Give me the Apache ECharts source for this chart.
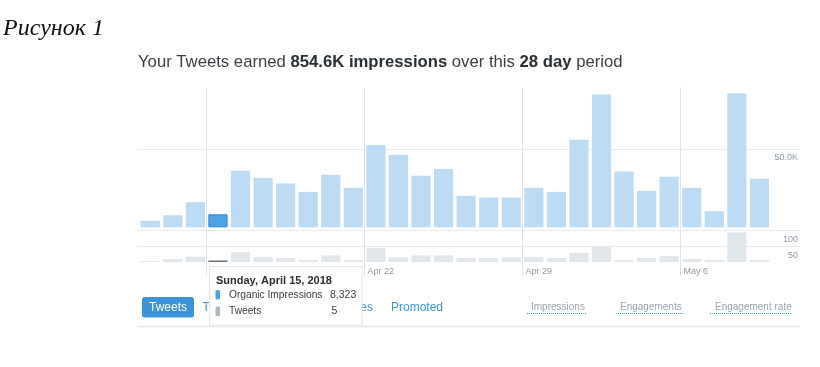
<!DOCTYPE html>
<html><head><meta charset="utf-8">
<script src="https://cdn.jsdelivr.net/npm/echarts@6/dist/echarts.min.js"></script>
<style>html,body{margin:0;padding:0;background:#fff}#c{width:820px;height:367px}</style>
</head><body><div id="c"></div>
<script>
// ---- data ----
const dates = ['Apr 12','Apr 13','Apr 14','Apr 15','Apr 16','Apr 17','Apr 18','Apr 19','Apr 20','Apr 21',
  'Apr 22','Apr 23','Apr 24','Apr 25','Apr 26','Apr 27','Apr 28','Apr 29','Apr 30','May 1',
  'May 2','May 3','May 4','May 5','May 6','May 7','May 8','May 9'];
const boundaryDates = dates.concat(['May 10']);
const impressions = [4100, 7700, 16100, 8323, 36200, 31700, 28100, 22700, 33700, 25300,
  52800, 46300, 33000, 37300, 20200, 19100, 19100, 25300, 22700, 56200,
  85100, 35800, 23400, 32400, 25300, 10300, 86000, 31100];
const tweets = [3, 9, 17, 5, 31, 16, 12, 6, 21, 6,
  44, 15, 21, 21, 12, 12, 15, 16, 13, 29,
  48, 6, 13, 19, 10, 6, 94, 6];
const weekStarts = [3, 10, 17, 24];
const highlightIdx = 3;
const highlightTitle = 'Sunday, April 15, 2018';
const totalImpressions = '854.6K';
const periodDays = 28;
const tabs = ['Tweets', 'Top Tweets', 'Tweets and replies', 'Promoted'];
const metrics = ['Impressions', 'Engagements', 'Engagement rate'];

// ---- chart ----
const FONT = 'Liberation Sans, Arial, sans-serif';
const GRIDLINE = '#e6ebef';
const LABEL = '#8f9ba5';
const BLUE = '#3b94d9';

const chart = echarts.init(document.getElementById('c'), null, {renderer: 'canvas'});

const impData = impressions.map((v, i) => i === highlightIdx
  ? {value: v, itemStyle: {color: '#4ba2e6', borderColor: '#2f86cc', borderWidth: 1}}
  : v);
const twData = tweets.map((v, i) => i === highlightIdx
  ? {value: v, itemStyle: {color: '#6e7880'}}
  : v);

const isWeek = (idx) => weekStarts.indexOf(idx) >= 0;

const option = {
  animation: false,
  backgroundColor: '#fff',
  textStyle: {fontFamily: FONT},
  title: [
    {text: 'Рисунок 1', left: 3, top: 17, padding: 0,
     textStyle: {fontFamily: 'Liberation Serif, Times New Roman, serif', fontStyle: 'italic', fontWeight: 'normal', fontSize: 24, color: '#111'}},
    {text: '{n|Your Tweets earned }{b|' + totalImpressions + ' impressions}{n| over this }{b|' + periodDays + ' day}{n| period}',
     left: 138, top: 54, padding: 0,
     textStyle: {fontWeight: 'normal', rich: {
       n: {fontFamily: FONT, fontSize: 16.7, fontWeight: 'normal', color: '#3a3f44'},
       b: {fontFamily: FONT, fontSize: 16.7, fontWeight: 'bold', color: '#292f33'}
     }}}
  ],
  grid: [
    {left: 139, width: 631.7, top: 71.3, height: 156},   // impressions bars
    {left: 139, width: 631.7, top: 230.5, height: 31.5}, // tweets bars
    {left: 137, width: 663, top: 71.3, height: 156},     // impressions gridlines
    {left: 137, width: 663, top: 230.5, height: 31.5},   // tweets gridlines
    {left: 139, width: 631.7, top: 87, height: 175}      // week lines + date labels
  ],
  xAxis: [
    {gridIndex: 0, type: 'category', data: dates, show: false},
    {gridIndex: 1, type: 'category', data: dates, show: false},
    {gridIndex: 2, type: 'value', show: false, min: 0, max: 1},
    {gridIndex: 3, type: 'value', show: false, min: 0, max: 1},
    {gridIndex: 4, type: 'category', data: boundaryDates, boundaryGap: false,
     axisLine: {show: false},
     axisTick: {show: true, length: 14, interval: (i) => isWeek(i), lineStyle: {color: '#dfe4e8'}},
     splitLine: {show: true, interval: (i) => isWeek(i), lineStyle: {color: '#dfe4e8', width: 1}},
     axisLabel: {show: true, interval: (i) => isWeek(i), align: 'left', padding: [0, 0, 0, 3],
       margin: 5, fontSize: 9, color: LABEL, fontFamily: FONT}}
  ],
  yAxis: [
    {gridIndex: 0, type: 'value', min: 0, max: 100000, show: false},
    {gridIndex: 1, type: 'value', min: 0, max: 100, show: false},
    {gridIndex: 2, type: 'value', min: 0, max: 100000, interval: 50000, position: 'right',
     axisLine: {show: false}, axisTick: {show: false},
     splitLine: {show: true, showMinLine: false, showMaxLine: false, lineStyle: {color: GRIDLINE}},
     axisLabel: {inside: true, margin: 2, showMinLabel: false, showMaxLabel: false,
       verticalAlign: 'top', padding: [4, 0, 0, 0], fontSize: 9, color: LABEL, fontFamily: FONT,
       formatter: (v) => (v / 1000).toFixed(1) + 'K'}},
    {gridIndex: 3, type: 'value', min: 0, max: 100, interval: 50, position: 'right',
     axisLine: {show: false}, axisTick: {show: false},
     splitLine: {show: true, showMinLine: false, showMaxLine: true, lineStyle: {color: GRIDLINE}},
     axisLabel: {inside: true, margin: 2, showMinLabel: false,
       verticalAlign: 'top', padding: [5, 0, 0, 0], fontSize: 9, color: LABEL, fontFamily: FONT}},
    {gridIndex: 4, type: 'value', show: false}
  ],
  series: [
    {type: 'bar', xAxisIndex: 0, yAxisIndex: 0, data: impData, barCategoryGap: '15%',
     itemStyle: {color: '#bbdcf4'}, silent: true, z: 3},
    {type: 'bar', xAxisIndex: 1, yAxisIndex: 1, data: twData, barCategoryGap: '15%',
     itemStyle: {color: '#e1e6eb'}, silent: true, z: 3}
  ],
  graphic: []
};

// tabs row
const g = [];
g.push({type: 'line', shape: {x1: 137, y1: 326.5, x2: 800, y2: 326.5}, style: {stroke: '#e1e6ea', lineWidth: 1.5}, z: 10});
g.push({type: 'rect', shape: {x: 142, y: 297, width: 52, height: 20.5, r: 3}, style: {fill: BLUE}, z: 10});
g.push({type: 'text', x: 168, y: 307.5, style: {text: tabs[0], fill: '#fff', font: '12px ' + FONT, textAlign: 'center', textVerticalAlign: 'middle'}, z: 11});
g.push({type: 'text', x: 202.5, y: 307.5, style: {text: tabs[1], fill: BLUE, font: '12px ' + FONT, textAlign: 'left', textVerticalAlign: 'middle'}, z: 11});
g.push({type: 'text', x: 373, y: 307.5, style: {text: tabs[2], fill: BLUE, font: '12px ' + FONT, textAlign: 'right', textVerticalAlign: 'middle'}, z: 11});
g.push({type: 'text', x: 391, y: 307.5, style: {text: tabs[3], fill: BLUE, font: '12px ' + FONT, textAlign: 'left', textVerticalAlign: 'middle'}, z: 11});
const metricPos = [[531, 527, 587], [620, 616, 683], [715, 710, 792]];
metrics.forEach((m, i) => {
  g.push({type: 'text', x: metricPos[i][0], y: 307, style: {text: m, fill: '#96a3ad', font: '10px ' + FONT, textAlign: 'left', textVerticalAlign: 'middle'}, z: 11});
  g.push({type: 'line', shape: {x1: metricPos[i][1], y1: 313.5, x2: metricPos[i][2], y2: 313.5}, style: {stroke: BLUE, lineWidth: 1, lineDash: [1, 1]}, z: 11});
});
// tooltip box
g.push({type: 'rect', shape: {x: 209.5, y: 266.5, width: 152.5, height: 58.5}, style: {fill: '#fff', stroke: '#e1e6ea', lineWidth: 1}, z: 100});
g.push({type: 'text', x: 216, y: 281, style: {text: highlightTitle, fill: '#292f33', font: 'bold 11px ' + FONT, textAlign: 'left', textVerticalAlign: 'middle'}, z: 101});
g.push({type: 'rect', shape: {x: 215.5, y: 290, width: 4.5, height: 9.5, r: 1.5}, style: {fill: '#4ba2e6'}, z: 101});
g.push({type: 'text', x: 229, y: 295, style: {text: 'Organic Impressions', fill: '#3a4045', font: '10.2px ' + FONT, textAlign: 'left', textVerticalAlign: 'middle'}, z: 101});
g.push({type: 'text', x: 330, y: 295, style: {text: impressions[highlightIdx].toLocaleString('en-US'), fill: '#3a4045', font: '10.5px ' + FONT, textAlign: 'left', textVerticalAlign: 'middle'}, z: 101});
g.push({type: 'rect', shape: {x: 215.5, y: 306.5, width: 4.5, height: 9.5, r: 1.5}, style: {fill: '#aab5bd'}, z: 101});
g.push({type: 'text', x: 229, y: 311.5, style: {text: 'Tweets', fill: '#3a4045', font: '10.2px ' + FONT, textAlign: 'left', textVerticalAlign: 'middle'}, z: 101});
g.push({type: 'text', x: 331.5, y: 311.5, style: {text: String(tweets[highlightIdx]), fill: '#3a4045', font: '10.5px ' + FONT, textAlign: 'left', textVerticalAlign: 'middle'}, z: 101});
option.graphic = g;

chart.setOption(option);
</script>
</body></html>
